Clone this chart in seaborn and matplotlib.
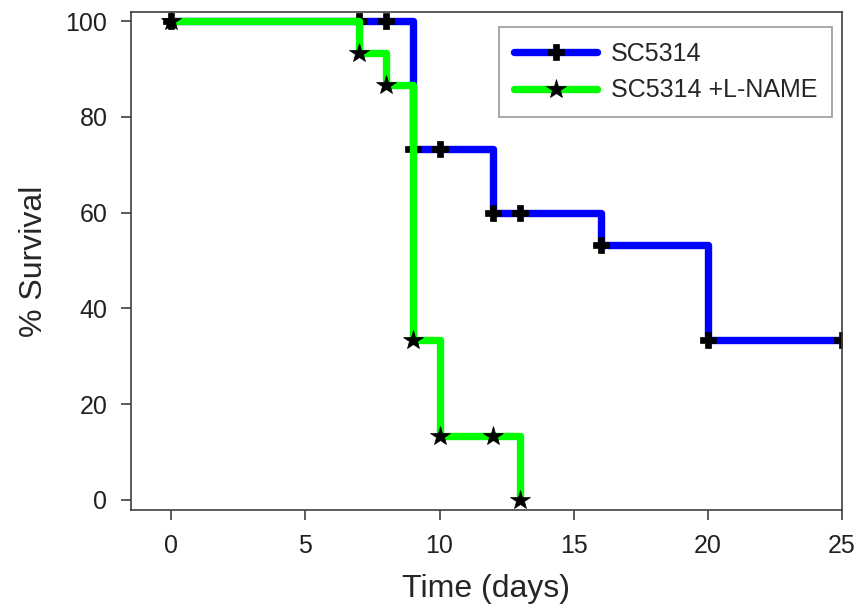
import pandas as pd
import matplotlib.pyplot as plt
import seaborn as sns

# survival data (days, % survival)
days_wt = [0, 7, 8, 9, 10, 12, 13, 16, 20, 25]
surv_wt = [100, 100, 100, 73.3, 73.3, 60, 60, 53.3, 33.3, 33.3]
days_ln = [0, 7, 8, 9, 10, 12, 13]
surv_ln = [100, 93.3, 86.7, 33.3, 13.3, 13.3, 0]

labels = ['SC5314', 'SC5314 +L-NAME']
line_colors = ['#0000ff', '#00ff00']
x_ticks = [0, 5, 10, 15, 20, 25]
y_ticks = [0, 20, 40, 60, 80, 100]

df_wt = pd.DataFrame({'day': days_wt, 'survival': surv_wt})
df_ln = pd.DataFrame({'day': days_ln, 'survival': surv_ln})

sns.set_style('white')
plt.rcParams['font.family'] = ['Liberation Sans', 'DejaVu Sans']

fig = plt.figure(figsize=(8.59, 6.09), dpi=100)
ax = fig.add_axes([0.1525, 0.1626, 0.8277, 0.8177])

sns.lineplot(data=df_wt, x='day', y='survival', ax=ax, estimator=None, sort=False,
             color=line_colors[0], linewidth=5.3, drawstyle='steps-post',
             marker='P', markersize=12, markerfacecolor='k', markeredgecolor='k',
             markeredgewidth=0.5, label=labels[0])
sns.lineplot(data=df_ln, x='day', y='survival', ax=ax, estimator=None, sort=False,
             color=line_colors[1], linewidth=5.3, drawstyle='steps-post',
             marker='*', markersize=15, markerfacecolor='k', markeredgecolor='k',
             markeredgewidth=0.5, label=labels[1])

ax.set_xlim(-1.5, 25)
ax.set_ylim(-2.1, 101.9)
ax.set_xticks(x_ticks)
ax.set_yticks(y_ticks)
ax.tick_params(axis='both', direction='out', length=7, width=1.2, color='#404040',
               labelsize=18, pad=10, bottom=True, left=True, labelcolor='#222222')
for s in ax.spines.values():
    s.set_color('#404040')
    s.set_linewidth(1.2)

ax.set_xlabel('Time (days)', fontsize=23, labelpad=12)
ax.set_ylabel('% Survival', fontsize=23, labelpad=12)

leg = ax.legend(loc='upper right', bbox_to_anchor=(0.986, 0.97), borderaxespad=0,
                fontsize=18, frameon=True, fancybox=False, edgecolor='#808080',
                handlelength=3.3, borderpad=0.6, labelspacing=0.5, handletextpad=0.55)
leg.get_frame().set_linewidth(1.2)

fig.savefig('out.png', dpi=100)
